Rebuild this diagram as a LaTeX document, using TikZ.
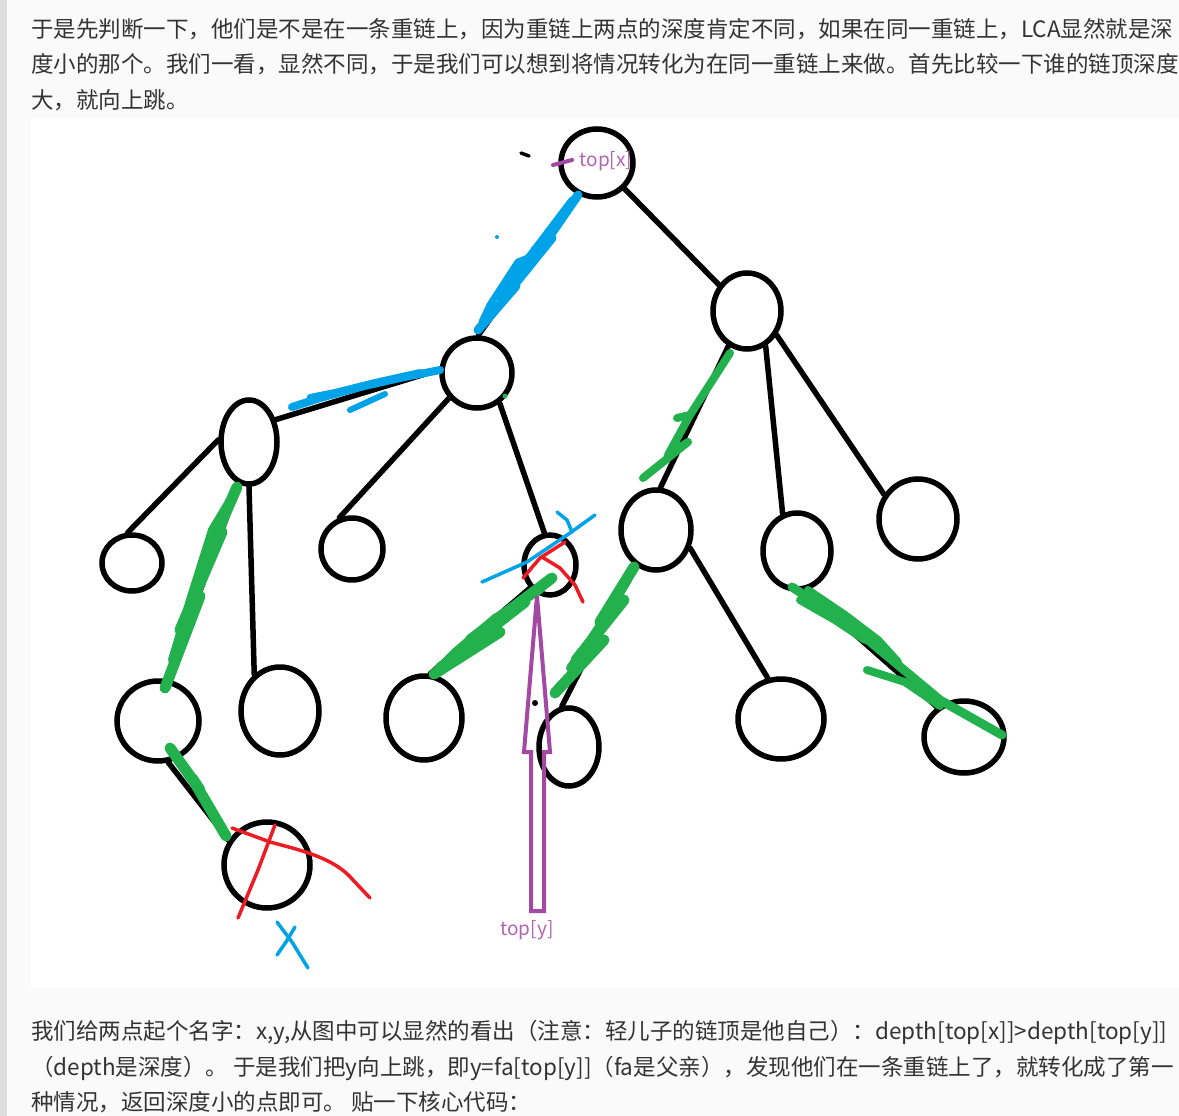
\documentclass[tikz,border=0pt]{standalone}
\usepackage{fontspec}
\newfontfamily\cjk{Noto Sans CJK SC}
\usetikzlibrary{shapes.geometric}
\definecolor{pblack}{HTML}{000000}
\definecolor{pblue}{HTML}{00A2E8}
\definecolor{pgreen}{HTML}{22B14C}
\definecolor{pred}{HTML}{ED1C24}
\definecolor{ppurple}{HTML}{A349A4}
\definecolor{ptext}{HTML}{333333}
\definecolor{pbg}{HTML}{FAFAFA}
\definecolor{pstripe}{HTML}{DDDDDD}
\begin{document}
\begin{tikzpicture}[x=1pt,y=-1pt,
  tnode/.style={ellipse,draw=pblack,line width=5.5pt,inner sep=0pt},
  edge/.style={draw=pblack,line width=5.5pt,line cap=round},
  gbrush/.style={draw=pgreen,line width=11pt,line cap=round,line join=round},
  bbrush/.style={draw=pblue,line width=9pt,line cap=round,line join=round},
  rpen/.style={draw=pred,line width=3.5pt,line cap=round,line join=round},
  bpen/.style={draw=pblue,line width=3.5pt,line cap=round,line join=round},
  ppen/.style={draw=ppurple,line width=4pt,line join=miter},
  para/.style={anchor=base west,inner sep=0pt,text=ptext,font=\cjk\fontsize{22.5}{26}\selectfont},
  plabel/.style={inner sep=0pt,text=ppurple!85,font=\cjk\fontsize{19}{22}\selectfont}]
\useasboundingbox (0,0) rectangle (1179,1116);
\fill[pbg] (0,0) rectangle (1179,1116);
\fill[pstripe] (0,0) rectangle (7,1116);
\fill[white] (31,118) rectangle (1179,988);

% text above
\node[para] (t1) at (31,37.5) {于是先判断一下，他们是不是在一条重链上，因为重链上两点的深度肯定不同，如果在同一重链上，LCA显然就是深};
\node[para] (t2) at (31,73) {度小的那个。我们一看，显然不同，于是我们可以想到将情况转化为在同一重链上来做。首先比较一下谁的链顶深度};
\node[para] (t3) at (31,108.5) {大，就向上跳。};

% text below
\node[para] (b1) at (31,1039) {我们给两点起个名字：x,y,从图中可以显然的看出（注意：轻儿子的链顶是他自己）：depth[top[x]]>depth[top[y]]};
\node[para] (b2) at (31,1075) {（depth是深度）。 于是我们把y向上跳，即y=fa[top[y]]（fa是父亲），发现他们在一条重链上了，就转化成了第一};
\node[para] (b3) at (31,1110) {种情况，返回深度小的点即可。 贴一下核心代码：};

% tree nodes
\node[tnode,minimum width=72pt,minimum height=68pt] (n1) at (597,163) {};
\node[tnode,minimum width=68pt,minimum height=76pt] (n2) at (747,311) {};
\node[tnode,minimum width=70pt,minimum height=70pt] (n3) at (477,373) {};
\node[tnode,minimum width=56pt,minimum height=84pt] (n4) at (249,442) {};
\node[tnode,minimum width=60pt,minimum height=56pt] (n5) at (132,563) {};
\node[tnode,minimum width=62pt,minimum height=62pt] (n6) at (352,549) {};
\node[tnode,minimum width=52pt,minimum height=60pt] (n7) at (550,565) {};
\node[tnode,minimum width=70pt,minimum height=80pt] (n8) at (656,530) {};
\node[tnode,minimum width=68pt,minimum height=76pt] (n9) at (797,551) {};
\node[tnode,minimum width=78pt,minimum height=80pt] (n10) at (918,519) {};
\node[tnode,minimum width=82pt,minimum height=80pt] (n11) at (158,721) {};
\node[tnode,minimum width=78pt,minimum height=88pt] (n12) at (280,711) {};
\node[tnode,minimum width=76pt,minimum height=84pt] (n13) at (424,718) {};
\node[tnode,minimum width=60pt,minimum height=78pt] (n14) at (569,747) {};
\node[tnode,minimum width=86pt,minimum height=80pt] (n15) at (781,719) {};
\node[tnode,minimum width=80pt,minimum height=72pt] (n16) at (964,737) {};
\node[tnode,minimum width=86pt,minimum height=86pt] (n17) at (267,865) {};

% tree edges
\draw[edge] (n1.-121) -- (n3.88);
\draw[edge] (n1.-43) -- (n2.137);
\draw[edge] (n3.175) -- (n4.40);
\draw[edge] (n3.-138) -- (n6.112);
\draw[edge] (n3.-53) -- (n7.100);
\draw[edge] (n4.176) -- (n5.98);
\draw[edge] (n4.-104) -- (n11.76);
\draw[edge] (n4.-90) -- (n12.125);
\draw[edge] (n11.-76) -- (n17.147);
\draw[edge] (n7.-131) -- (n13.82);
\draw[edge] (n8.-122) -- (n14.100);
\draw[edge] (n2.-118) -- (n8.84);
\draw[edge] (n2.-62) -- (n9.111);
\draw[edge] (n2.-39) -- (n10.144);
\draw[edge] (n8.-28) -- (n15.108);
\draw[edge] (n9.-78) -- (n16.132);

% blue scribbles (heavy chain of x)
\draw[bbrush] (578,195) -- (540,250) -- (552,238) -- (502,300) -- (516,286) -- (478,330);
\draw[bbrush,line width=7pt] (572,200) -- (528,258) -- (518,262) -- (490,305) -- (482,322);
\draw[bbrush,line width=6pt] (562,218) -- (535,248) -- (512,282) -- (495,298);
\draw[bbrush,line width=8pt] (440,370) -- (400,378) -- (360,387) -- (320,398) -- (292,407);
\draw[bbrush,line width=6pt] (420,372) -- (375,382) -- (335,392) -- (310,397);
\draw[bbrush,line width=6pt] (385,394) -- (350,410);
\fill[pblue] (497,237) circle (2);

% green scribbles (heavy chains)
\draw[gbrush] (237,487) -- (205,560) -- (222,532) -- (180,630) -- (200,596) -- (165,688);
\draw[gbrush,line width=8pt] (230,500) -- (212,530) -- (190,600) -- (172,660);
\draw[gbrush,line width=7pt] (225,520) -- (215,545) -- (198,585) -- (185,620) -- (176,648);
\draw[gbrush] (170,748) -- (200,790) -- (192,778) -- (226,836);
\draw[gbrush] (552,578) -- (470,640) -- (525,602) -- (440,668) -- (500,632) -- (434,674);
\draw[gbrush,line width=8pt] (540,590) -- (495,618) -- (455,652) -- (445,662);
\draw[gbrush] (634,567) -- (600,622) -- (624,600) -- (576,660) -- (604,640) -- (555,693);
\draw[gbrush,line width=8pt] (628,580) -- (610,610) -- (590,640) -- (570,668);
\draw[gbrush,line width=8pt] (730,353) -- (690,415) -- (677,418);
\draw[gbrush,line width=8pt] (690,415) -- (668,455) -- (688,442) -- (643,478);
\draw[gbrush,line width=9pt] (792,587) -- (830,612) -- (850,625) -- (880,650) -- (940,700) -- (1002,735);
\draw[gbrush,line width=8pt] (808,590) -- (845,615) -- (878,640) -- (898,662);
\draw[gbrush,line width=8pt] (800,600) -- (835,620) -- (865,640);
\draw[gbrush,line width=8pt] (867,670) -- (905,682) -- (940,706);
\fill[pgreen] (505,396) circle (2.5);

% red crosses
\draw[rpen] (565,542) -- (540,558) -- (523,578);
\draw[rpen] (542,557) -- (560,568) -- (575,585) -- (583,602);
\draw[rpen] (232,828) -- (270,842) .. controls (300,850) and (335,858) .. (353,880) -- (370,898);
\draw[rpen] (275,825) -- (258,870) -- (238,918);

% blue marks
\draw[bpen] (482,582) -- (527,562) -- (570,533) -- (595,515);
\draw[bpen] (557,512) -- (567,520) -- (572,532);
\draw[bpen] (277,922) -- (292,942) -- (308,968);
\draw[bpen] (295,927) -- (286,942) -- (277,955);

% purple arrow and labels
\draw[ppen] (531,911) -- (531,752) -- (524,752) -- (537,596) -- (550,752) -- (544,752) -- (544,911) -- cycle;
\fill[pblack] (535,703) circle (3);
\draw[ppen,line cap=round] (553,165) -- (572,160);
\draw[pblack,line width=3.5pt,line cap=round] (521,153) -- (529,156);
\node[plabel] (lx) at (606,161) {top[x]};
\node[plabel] (ly) at (527,930) {top[y]};
\end{tikzpicture}
\end{document}
